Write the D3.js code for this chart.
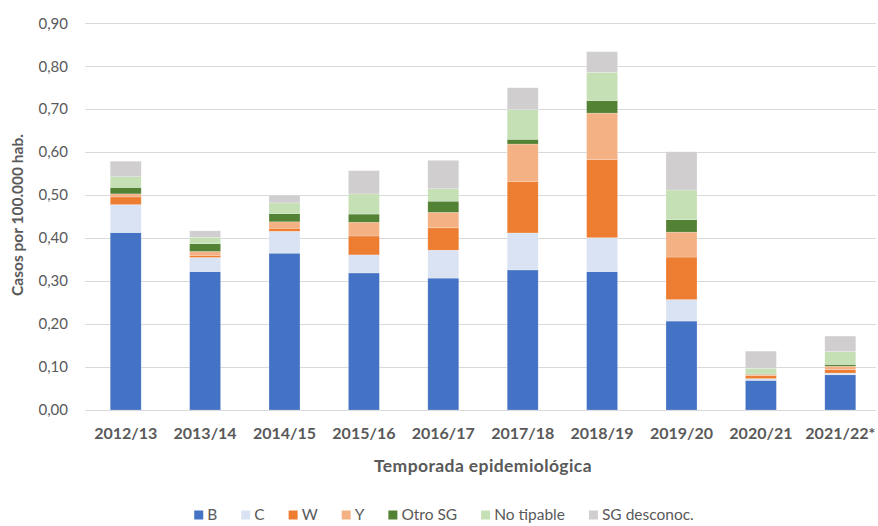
<!DOCTYPE html>
<html>
<head>
<meta charset="utf-8">
<script src="https://cdn.jsdelivr.net/npm/d3@7"></script>
<style>
  body { margin: 0; background: #fff; }
  text { font-family: Lato, "Open Sans", sans-serif; fill: #595959; }
</style>
</head>
<body>
<svg id="svg1" width="878" height="526"></svg>
<script>
// data
var seasons = ['2012/13','2013/14','2014/15','2015/16','2016/17','2017/18','2018/19','2019/20','2020/21','2021/22*'];
var groups = ['B','C','W','Y','Otro SG','No tipable','SG desconoc.'];
var colors = ['#4472C4','#DAE3F3','#ED7D31','#F4B183','#548235','#C5E0B4','#D0CECE'];

var valB   = [0.413, 0.322, 0.365, 0.319, 0.307, 0.326, 0.322, 0.207, 0.069, 0.082];
var valC   = [0.065, 0.033, 0.051, 0.042, 0.065, 0.086, 0.079, 0.050, 0.004, 0.004];
var valW   = [0.018, 0.005, 0.007, 0.044, 0.052, 0.120, 0.182, 0.099, 0.007, 0.008];
var valY   = [0.007, 0.009, 0.015, 0.032, 0.036, 0.087, 0.108, 0.058, 0.003, 0.008];
var valOtro = [0.015, 0.018, 0.019, 0.019, 0.026, 0.011, 0.029, 0.029, 0.001, 0.004];
var valNT  = [0.025, 0.015, 0.025, 0.047, 0.029, 0.069, 0.066, 0.069, 0.013, 0.030];
var valSG  = [0.036, 0.015, 0.018, 0.054, 0.066, 0.051, 0.048, 0.089, 0.040, 0.036];
var yTicks = [0, 0.1, 0.2, 0.3, 0.4, 0.5, 0.6, 0.7, 0.8, 0.9];

var series = [valB, valC, valW, valY, valOtro, valNT, valSG];

// table for the stack layout
var rows = seasons.map(function(s, i){
    var r = {season: s};
    groups.forEach(function(g, j){ r[g] = series[j][i]; });
    return r;
});

var svg = d3.select('svg');

var x = d3.scaleBand()
    .domain(seasons)
    .range([86, 880])
    .paddingInner(0.61)
    .paddingOuter(0.305);

var y = d3.scaleLinear()
    .domain([0, 0.9])
    .range([410, 23.3]);

var fmt = function(d){ return d3.format('.2f')(d).replace('.', ','); };

// gridlines
svg.append('g')
    .selectAll('line')
    .data(yTicks)
    .enter()
    .append('line')
    .attr('x1', 85)
    .attr('x2', 876)
    .attr('y1', function(d){ return Math.round(y(d)) + 0.5; })
    .attr('y2', function(d){ return Math.round(y(d)) + 0.5; })
    .attr('stroke', '#d9d9d9')
    .attr('stroke-width', 1);

// y tick labels
svg.append('g')
    .selectAll('text')
    .data(yTicks)
    .enter()
    .append('text')
    .attr('x', 68)
    .attr('y', function(d){ return y(d); })
    .attr('dy', '0.35em')
    .attr('text-anchor', 'end')
    .style('font-size', '15px')
    .text(fmt);

// stacked bars
var stack = d3.stack().keys(groups);
var layers = stack(rows);

svg.selectAll('g.layer')
    .data(layers)
    .enter()
    .append('g')
    .attr('class', 'layer')
    .attr('fill', function(d, i){ return colors[i]; })
    .selectAll('rect')
    .data(function(d){ return d; })
    .enter()
    .append('rect')
    .attr('x', function(d){ return x(d.data.season); })
    .attr('width', x.bandwidth())
    .attr('y', function(d){ return y(d[1]); })
    .attr('height', function(d){ return y(d[0]) - y(d[1]); })
    .attr('stroke', '#ffffff')
    .attr('stroke-opacity', 0.35)
    .attr('stroke-width', 0.6);

// x tick labels
svg.append('g')
    .selectAll('text')
    .data(seasons)
    .enter()
    .append('text')
    .attr('x', function(d){ return x(d) + x.bandwidth() / 2; })
    .attr('y', 439)
    .attr('text-anchor', 'middle')
    .style('font-size', '16px')
    .style('font-weight', 'bold')
    .text(function(d){ return d; });

// axis titles
svg.append('text')
    .attr('x', 483)
    .attr('y', 472)
    .attr('text-anchor', 'middle')
    .style('font-size', '17.5px')
    .style('font-weight', 'bold')
    .style('letter-spacing', '0.4px')
    .text('Temporada epidemiológica');

svg.append('text')
    .attr('transform', 'translate(23,215) rotate(-90)')
    .attr('text-anchor', 'middle')
    .style('font-size', '15.5px')
    .style('font-weight', 'bold')
    .text('Casos por 100.000 hab.');

// legend, laid out from the text widths and centred under the chart
var legend = svg.append('g')
    .selectAll('g')
    .data(groups)
    .enter()
    .append('g');

legend.append('rect')
    .attr('x', 0)
    .attr('y', -4.5)
    .attr('width', 9)
    .attr('height', 9)
    .attr('fill', function(d, i){ return colors[i]; });

legend.append('text')
    .attr('x', 13)
    .attr('y', 0)
    .attr('dy', '0.35em')
    .style('font-size', '15.5px')
    .text(function(d){ return d; });

var itemW = [];
legend.each(function(){
    itemW.push(13 + d3.select(this).select('text').node().getComputedTextLength());
});
var gap = 24;
var total = d3.sum(itemW) + gap * (itemW.length - 1);
var start = 444 - total / 2;
var offs = [];
itemW.reduce(function(acc, w){ offs.push(acc); return acc + w + gap; }, start);

legend.attr('transform', function(d, i){ return 'translate(' + offs[i] + ',515)'; });
</script>
</body>
</html>
